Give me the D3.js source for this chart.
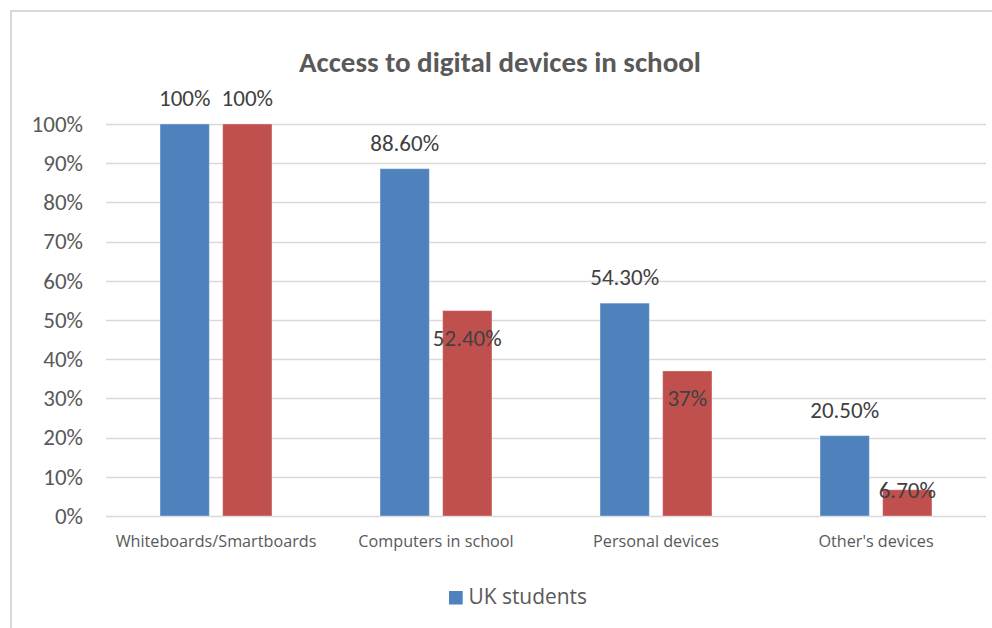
<!DOCTYPE html>
<html>
<head>
<meta charset="utf-8">
<script src="https://cdn.jsdelivr.net/npm/d3@7/dist/d3.min.js"></script>
<style>
  html, body { margin: 0; padding: 0; background: #fff; }
  svg { display: block; }
</style>
</head>
<body>
<svg id="chart" width="992" height="628"></svg>
<script>
const title = "Access to digital devices in school";
const categories = ["Whiteboards/Smartboards", "Computers in school", "Personal devices", "Other's devices"];
const seriesNames = ["UK students", "Other students"];
const ukValues = [1.00, 0.886, 0.543, 0.205];
const otherValues = [1.00, 0.524, 0.37, 0.067];
const ukLabels = ["100%", "88.60%", "54.30%", "20.50%"];
const otherLabels = ["100%", "52.40%", "37%", "6.70%"];
const yTicks = [0, 0.1, 0.2, 0.3, 0.4, 0.5, 0.6, 0.7, 0.8, 0.9, 1.0];
const legendNames = ["UK students"];

const colors = { "UK students": "#4f81bd", "Other students": "#c0504d" };
const labelFont = "Carlito, Lato, 'Liberation Sans', sans-serif";
const catFont = "'Open Sans', 'Noto Sans', sans-serif";

const svg = d3.select("#chart");

// chart border
svg.append("rect")
  .attr("x", 11).attr("y", 11)
  .attr("width", 1100).attr("height", 1100)
  .attr("fill", "#fff")
  .attr("stroke", "#d9d9d9").attr("stroke-width", 2);

const plot = { left: 106, right: 986, top: 124, bottom: 516 };

const x0 = d3.scaleBand().domain(categories).range([plot.left, plot.right]).paddingInner(0).paddingOuter(0);
const x1 = d3.scaleBand().domain(seriesNames).range([0, x0.bandwidth()]).paddingInner(0.212).paddingOuter(0.863);
const y = d3.scaleLinear().domain([0, 1]).range([plot.bottom, plot.top]);

// gridlines
svg.append("g").selectAll("line").data(yTicks).join("line")
  .attr("x1", plot.left).attr("x2", plot.right)
  .attr("y1", d => Math.round(y(d)) + 0.5).attr("y2", d => Math.round(y(d)) + 0.5)
  .attr("stroke", "#d9d9d9").attr("stroke-width", 1.3);

// y axis labels
const yAxis = d3.axisLeft(y).tickValues(yTicks).tickFormat(d3.format(".0%")).tickSize(0).tickPadding(23);
const gy = svg.append("g").attr("transform", `translate(${plot.left},0)`).call(yAxis);
gy.select(".domain").remove();
gy.selectAll("text")
  .attr("font-family", labelFont).attr("font-size", 23).attr("fill", "#595959");

// x axis labels
const xAxis = d3.axisBottom(x0).tickSize(0).tickPadding(19);
const gx = svg.append("g").attr("transform", `translate(0,${plot.bottom})`).call(xAxis);
gx.select(".domain").remove();
gx.selectAll("text")
  .attr("font-family", catFont).attr("font-size", 16.2).attr("fill", "#595959");

// bars
const rows = categories.map((c, i) => ({
  cat: c,
  vals: [
    { s: "UK students", v: ukValues[i], label: ukLabels[i] },
    { s: "Other students", v: otherValues[i], label: otherLabels[i] }
  ]
}));

const groups = svg.append("g").selectAll("g").data(rows).join("g")
  .attr("transform", d => `translate(${x0(d.cat)},0)`);

groups.selectAll("rect").data(d => d.vals).join("rect")
  .attr("x", d => x1(d.s))
  .attr("y", d => y(d.v))
  .attr("width", x1.bandwidth())
  .attr("height", d => y(0) - y(d.v))
  .attr("fill", d => colors[d.s])
  .attr("stroke", "#ffffff").attr("stroke-opacity", 0.35).attr("stroke-width", 1);

// data labels
groups.selectAll("text").data(d => d.vals).join("text")
  .attr("x", d => x1(d.s) + x1.bandwidth() / 2)
  .attr("y", d => {
    const top = y(d.v);
    if (d.s === "UK students" || d.v >= y.domain()[1]) return top - 18;
    return Math.min(top + 35, y(0) - 17.7);
  })
  .attr("text-anchor", "middle")
  .attr("font-family", labelFont).attr("font-size", 23)
  .attr("fill", "#404040")
  .text(d => d.label);

// title
svg.append("text")
  .attr("x", 500).attr("y", 72)
  .attr("text-anchor", "middle")
  .attr("font-family", "Carlito, Lato, sans-serif")
  .attr("font-weight", "bold").attr("font-size", 29)
  .attr("fill", "#595959")
  .text(title);

// legend
const lg = svg.append("g").attr("transform", "translate(449,591)");
lg.selectAll("rect").data(legendNames).join("rect")
  .attr("x", 0).attr("y", 0).attr("width", 13.7).attr("height", 13.5)
  .attr("fill", d => colors[d]);
lg.selectAll("text").data(legendNames).join("text")
  .attr("x", 19.5).attr("y", 13)
  .attr("font-family", catFont).attr("font-size", 20.9)
  .attr("fill", "#595959")
  .text(d => d);
</script>
</body>
</html>
